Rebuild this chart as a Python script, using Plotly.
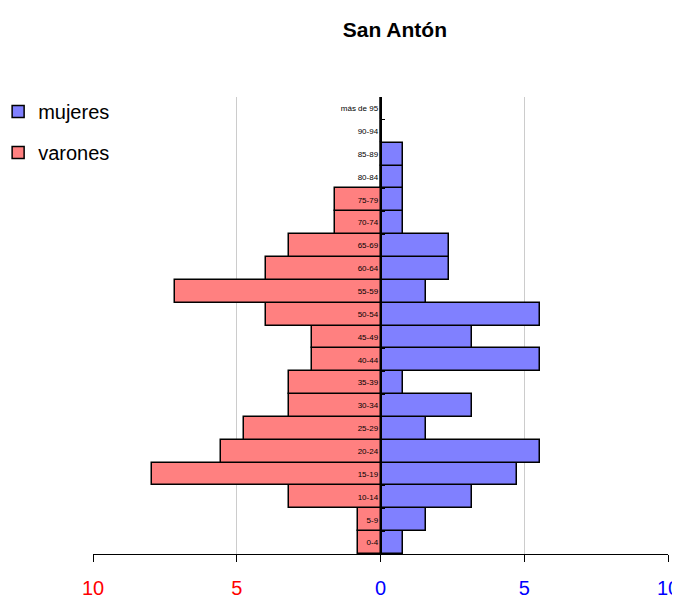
# -*- coding: utf-8 -*-
#-------------------------------------------------------
### IMPORTS ###

import plotly.graph_objects as go


#-------------------------------------------------------
### DATA ###

grupos = ['0-4', '5-9', '10-14', '15-19', '20-24', '25-29', '30-34', '35-39',
          '40-44', '45-49', '50-54', '55-59', '60-64', '65-69', '70-74',
          '75-79', '80-84', '85-89', '90-94', 'más de 95']

mujeres = [0.79, 1.59, 3.17, 4.76, 5.56, 1.59, 3.17, 0.79, 5.56, 3.17,
           5.56, 1.59, 2.38, 2.38, 0.79, 0.79, 0.79, 0.79, 0, 0]

varones = [0.79, 0.79, 3.17, 7.94, 5.56, 4.76, 3.17, 3.17, 2.38, 2.38,
           3.97, 7.14, 3.97, 3.17, 1.59, 1.59, 0, 0, 0, 0]

tick_vals = [-10, -5, 0, 5, 10]
tick_text = ['10', '5', '0', '5', '10']
tick_colors = ['#ff0000', '#ff0000', '#0000ff', '#0000ff', '#0000ff']


#-------------------------------------------------------
### FIGURE ###

FONT = 'Liberation Sans, Arial, sans-serif'

fig = go.Figure()

fig.add_trace(go.Bar(y=grupos, x=mujeres, orientation='h', name='mujeres',
                     legendgroup='m',
                     marker=dict(color='#8080ff',
                                 line=dict(color='black', width=1.5))))

fig.add_trace(go.Bar(y=grupos, x=[-v for v in varones], orientation='h',
                     name='varones', legendgroup='v',
                     marker=dict(color='#ff8080',
                                 line=dict(color='black', width=1.5))))

# page body adds ~8px offset, margins compensate for it
fig.update_layout(
    width=680, height=598,
    barmode='overlay', bargap=0,
    plot_bgcolor='white', paper_bgcolor='white',
    font=dict(family=FONT, color='black'),
    margin=dict(l=85, r=20, t=89, b=52, autoexpand=False),
    title=dict(text='<b>San Antón</b>', x=0.569, xanchor='center',
               y=0.963, yanchor='middle', yref='container',
               font=dict(size=21, family=FONT)),
    legend=dict(x=-0.165, y=1.011, xanchor='left', yanchor='top',
                bgcolor='white', font=dict(size=20), itemwidth=30,
                traceorder='grouped', tracegroupgap=12),
    xaxis=dict(range=[-10, 10], tickvals=tick_vals,
               ticktext=[f'<span style="color:{c}">{t}</span>'
                         for t, c in zip(tick_text, tick_colors)],
               tickfont=dict(size=20), ticks='outside', ticklen=7,
               tickcolor='black', showline=True, linecolor='black',
               linewidth=1, showgrid=True, gridcolor='#cccccc',
               gridwidth=1, zeroline=False, ticklabelstandoff=9),
    yaxis=dict(type='category', anchor='free', position=0.5,
               showline=True, linecolor='black', linewidth=1.5,
               ticks='inside', ticklen=4, tickson='boundaries',
               tickcolor='black', tickfont=dict(size=8),
               showgrid=False, zeroline=False),
)


#-------------------------------------------------------
### PLOT ###

fig.write_html("out.html")
